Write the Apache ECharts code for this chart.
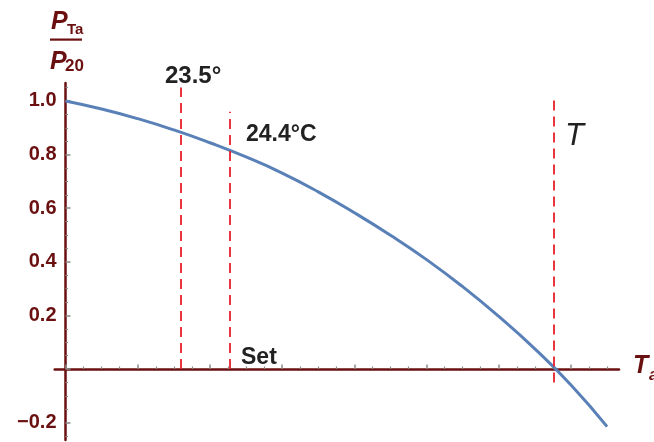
<!DOCTYPE html>
<html>
<head>
<meta charset="utf-8">
<script src="https://cdn.jsdelivr.net/npm/echarts@6/dist/echarts.min.js"></script>
<style>html,body{margin:0;padding:0;background:#fff}#c{width:654px;height:442px}</style>
</head>
<body>
<div id="c"></div>
<script>
// Data
var temps = [20, 21, 22, 23, 24, 25, 26, 27, 28, 29, 30, 31, 32, 33, 34, 35];
var ratio = [1.000, 0.970, 0.934, 0.892, 0.844, 0.791, 0.731, 0.661, 0.583, 0.499, 0.408, 0.307, 0.196, 0.075, -0.060, -0.215];
// vertical dashed markers: [T, yBottom, yTop]
var markers = [[23.2, 0, 1.05], [24.55, 0, 0.96], [33.53, -0.05, 1.01]];
var xTickLabels = [22, 24, 26, 28, 30, 32, 34];
var xMajorTicks = [20, 22, 24, 26, 28, 30, 32, 34];
var xMinorTicks = [20.5, 21, 21.5, 22.5, 23, 23.5, 24.5, 25, 25.5, 26.5, 27, 27.5, 28.5, 29, 29.5, 30.5, 31, 31.5, 32.5, 33, 33.5, 34.5, 35];
var yTickLabels = [-0.2, 0.2, 0.4, 0.6, 0.8, 1.0];
var yMajorTicks = [-0.2, 0, 0.2, 0.4, 0.6, 0.8, 1.0];
var yMinorTicks = [-0.25, -0.15, -0.1, -0.05, 0.05, 0.1, 0.15, 0.25, 0.3, 0.35, 0.45, 0.5, 0.55, 0.65, 0.7, 0.75, 0.85, 0.9, 0.95, 1.05];

var axisColor = '#6b1010';
var tickColor = '#8a8a8a';
var xMin = 19.7, xMax = 35.33, yMin = -0.265, yMax = 1.067;
var yOff = -10.8;

var chart = echarts.init(document.getElementById('c'), null, {renderer: 'canvas'});
var labelFont = {color: axisColor, fontWeight: 'bold', fontSize: 20, fontFamily: 'Liberation Sans, Arial, sans-serif'};

chart.setOption({
  animation: false,
  grid: {left: 54.7, right: 35, top: 83, bottom: 2, outerBoundsMode: 'none', containLabel: false},
  xAxis: [{
    type: 'value', min: xMin, max: xMax, position: 'bottom',
    axisLine: {show: true, onZero: true, lineStyle: {color: axisColor, width: 2.5}},
    axisTick: {show: true, inside: true, length: 4.5, lineStyle: {color: tickColor, width: 1.5}, customValues: xMajorTicks},
    axisLabel: Object.assign({show: true, margin: 12, customValues: xTickLabels, formatter: function (v) { return String(v); }}, labelFont),
    splitLine: {show: false}
  }, {
    type: 'value', min: xMin, max: xMax, position: 'bottom',
    axisLine: {show: false, onZero: true},
    axisTick: {show: true, inside: true, length: 2.5, lineStyle: {color: tickColor, width: 1.2}, customValues: xMinorTicks},
    axisLabel: {show: false},
    splitLine: {show: false}
  }],
  yAxis: [{
    type: 'value', min: yMin, max: yMax, position: 'left', offset: yOff,
    axisLine: {show: true, onZero: false, lineStyle: {color: axisColor, width: 2.5}},
    axisTick: {show: true, inside: true, length: 5, lineStyle: {color: tickColor, width: 1.5}, customValues: yMajorTicks},
    axisLabel: Object.assign({show: true, margin: 9, customValues: yTickLabels, formatter: function (v) { return v.toFixed(1).replace('-', '\u2212'); }}, labelFont),
    splitLine: {show: false}
  }, {
    type: 'value', min: yMin, max: yMax, position: 'left', offset: yOff,
    axisLine: {show: false, onZero: false},
    axisTick: {show: true, inside: true, length: 2.5, lineStyle: {color: tickColor, width: 1.2}, customValues: yMinorTicks},
    axisLabel: {show: false},
    splitLine: {show: false}
  }],
  series: [{
    type: 'line',
    xAxisIndex: 0, yAxisIndex: 0,
    data: temps.map(function (t, i) { return [t, ratio[i]]; }),
    smooth: 0.5,
    showSymbol: false,
    lineStyle: {color: '#5a80b8', width: 3},
    z: 3,
    markLine: {
      silent: true, symbol: 'none', animation: false,
      label: {show: false},
      lineStyle: {color: '#e8202c', width: 1.8, type: [10, 6]},
      data: markers.map(function (m) { return [{coord: [m[0], m[1]]}, {coord: [m[0], m[2]]}]; })
    }
  }],
  graphic: [
    // y axis name: P_Ta / P_20
    {type: 'text', left: 51, top: 10, style: {text: 'P', font: 'italic bold 25px Liberation Sans, Arial, sans-serif', fill: axisColor}},
    {type: 'text', left: 67, top: 22, style: {text: 'Ta', font: 'bold 15px Liberation Sans, Arial, sans-serif', fill: axisColor}},
    {type: 'rect', shape: {x: 50, y: 38.5, width: 32, height: 2.2}, style: {fill: axisColor}},
    {type: 'text', left: 50, top: 50, style: {text: 'P', font: 'italic bold 25px Liberation Sans, Arial, sans-serif', fill: axisColor}},
    {type: 'text', left: 65, top: 58, style: {text: '20', font: 'bold 17px Liberation Sans, Arial, sans-serif', fill: axisColor}},
    // x axis name: T_a
    {type: 'text', left: 633, top: 354, style: {text: 'T', font: 'italic bold 25px Liberation Sans, Arial, sans-serif', fill: axisColor}},
    {type: 'text', left: 649, top: 368, style: {text: 'a', font: 'italic bold 16px Liberation Sans, Arial, sans-serif', fill: axisColor}},
    // annotations
    {type: 'text', left: 165, top: 64, style: {text: '23.5\u00B0', font: 'bold 24px Liberation Sans, Arial, sans-serif', fill: '#222'}},
    {type: 'text', left: 246, top: 123, style: {text: '24.4\u00B0C', font: 'bold 23px Liberation Sans, Arial, sans-serif', fill: '#222'}},
    {type: 'text', left: 565, top: 121, style: {text: 'T', font: 'italic 31px Liberation Sans, Arial, sans-serif', fill: '#222'}},
    {type: 'text', left: 241, top: 346, style: {text: 'Set', font: 'bold 23px Liberation Sans, Arial, sans-serif', fill: '#222'}}
  ]
});
</script>
</body>
</html>
